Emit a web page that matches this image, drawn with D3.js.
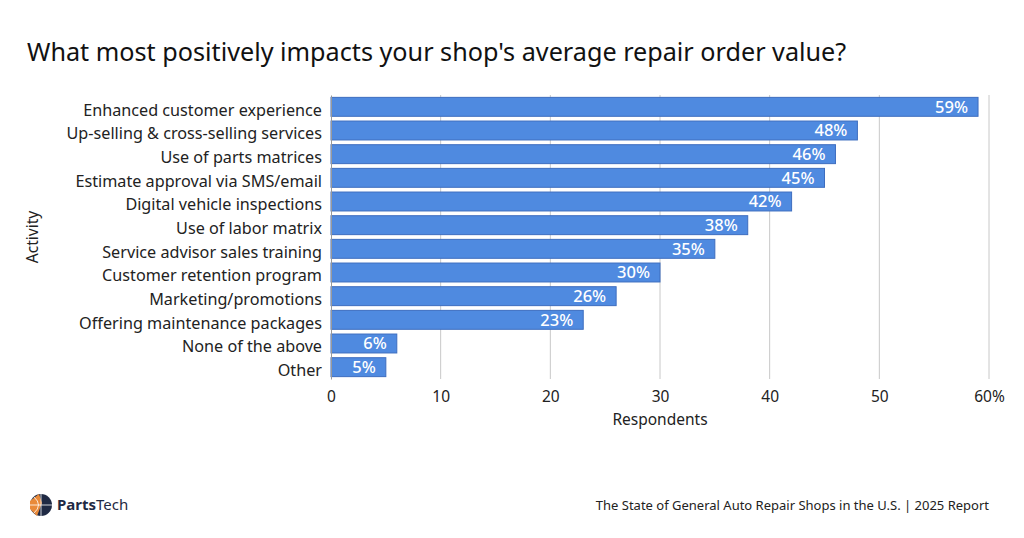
<!DOCTYPE html>
<html>
<head>
<meta charset="utf-8">
<script src="https://cdn.jsdelivr.net/npm/d3@7"></script>
<style>
  body { margin: 0; background: #fff; }
  svg { font-family: "Noto Sans", "Open Sans", sans-serif; }
</style>
</head>
<body>
<div id="chart"></div>
<script>
const categories = [
  "Enhanced customer experience",
  "Up-selling & cross-selling services",
  "Use of parts matrices",
  "Estimate approval via SMS/email",
  "Digital vehicle inspections",
  "Use of labor matrix",
  "Service advisor sales training",
  "Customer retention program",
  "Marketing/promotions",
  "Offering maintenance packages",
  "None of the above",
  "Other"
];
const values = [59, 48, 46, 45, 42, 38, 35, 30, 26, 23, 6, 5];
const xTicks = [0, 10, 20, 30, 40, 50, 60];

const width = 1024, height = 538;
const margin = { top: 95, left: 331, right: 35, bottom: 159 };
const innerW = width - margin.left - margin.right;
const innerH = height - margin.top - margin.bottom;
const font = "'Noto Sans', 'Open Sans', sans-serif";

const svg = d3.select("#chart").append("svg")
  .attr("width", width)
  .attr("height", height)
  .attr("viewBox", [0, 0, width, height]);

svg.append("text")
  .attr("x", 27).attr("y", 61)
  .style("font-size", "25.2px")
  .style("fill", "#111")
  .text("What most positively impacts your shop's average repair order value?");

const xScale = d3.scaleLinear().domain([0, 60]).range([0, innerW]);
const yScale = d3.scaleBand().domain(categories).range([0, innerH]).paddingInner(0.2).paddingOuter(0.1);

const g = svg.append("g").attr("transform", `translate(${margin.left}, ${margin.top})`);

// grid
g.append("g")
  .selectAll("line")
  .data(xTicks.slice(1))
  .join("line")
  .attr("x1", d => xScale(d)).attr("x2", d => xScale(d))
  .attr("y1", 0).attr("y2", innerH)
  .attr("stroke", "#c8c8c8");

// bars
g.append("g")
  .selectAll("rect")
  .data(values)
  .join("rect")
  .attr("x", 0)
  .attr("y", (d, i) => yScale(categories[i]))
  .attr("width", d => xScale(d))
  .attr("height", yScale.bandwidth())
  .attr("fill", "#4f8ae0")
  .attr("stroke", "#3d6dbf")
  .attr("stroke-width", 1);

// value labels
g.append("g")
  .selectAll("text")
  .data(values)
  .join("text")
  .attr("x", d => xScale(d) - 10)
  .attr("y", (d, i) => yScale(categories[i]) + yScale.bandwidth() / 2)
  .attr("dy", "0.36em")
  .attr("text-anchor", "end")
  .style("fill", "#fff")
  .style("font-size", "16.5px")
  .style("font-weight", "500")
  .text(d => d + "%");

// y axis
const yAxis = g.append("g")
  .call(d3.axisLeft(yScale).tickSize(0).tickPadding(9));
yAxis.select(".domain").attr("stroke", "#999");
yAxis.selectAll("text").style("font-size", "16.2px").style("fill", "#222")
  .style("font-family", font)
  .attr("dy", "0.55em");

// x axis
const xAxis = g.append("g")
  .attr("transform", `translate(0, ${innerH})`)
  .call(d3.axisBottom(xScale).tickValues(xTicks).tickSize(0).tickPadding(12)
    .tickFormat(d => d === 60 ? "60%" : d));
xAxis.select(".domain").remove();
xAxis.selectAll("text").style("font-size", "15.5px").style("fill", "#222")
  .style("font-family", font);

g.append("text")
  .attr("x", innerW / 2).attr("y", innerH + 46)
  .attr("text-anchor", "middle")
  .style("font-size", "15.5px").style("fill", "#222")
  .text("Respondents");

g.append("text")
  .attr("transform", `translate(${33 - margin.left}, ${innerH / 2}) rotate(-90)`)
  .attr("text-anchor", "middle")
  .attr("dy", "0.35em")
  .style("font-size", "15.5px").style("fill", "#222")
  .text("Activity");

// footer
svg.append("text")
  .attr("x", 989).attr("y", 510)
  .attr("text-anchor", "end")
  .style("font-size", "13px").style("fill", "#222")
  .text("The State of General Auto Repair Shops in the U.S. | 2025 Report");

// logo
const logo = svg.append("g").attr("transform", "translate(41, 505)");
logo.append("circle").attr("r", 11).attr("fill", "#1f2a44");
logo.append("path").attr("d", "M-11,-4 L-2,-11 L1,-2 L-4,11 L-11,4 Z").attr("fill", "#e98a3a");
logo.append("path").attr("d", "M0,-11 L0,11 M-11,0 L11,0 M-7,-8 Q2,0 -7,8").attr("stroke", "#fff").attr("stroke-width", 0.8).attr("fill", "none");
const lt = svg.append("text").attr("x", 57).attr("y", 510).style("font-size", "15px").style("fill", "#1f2a44");
lt.append("tspan").style("font-weight", "700").text("Parts");
lt.append("tspan").text("Tech");
</script>
</body>
</html>
